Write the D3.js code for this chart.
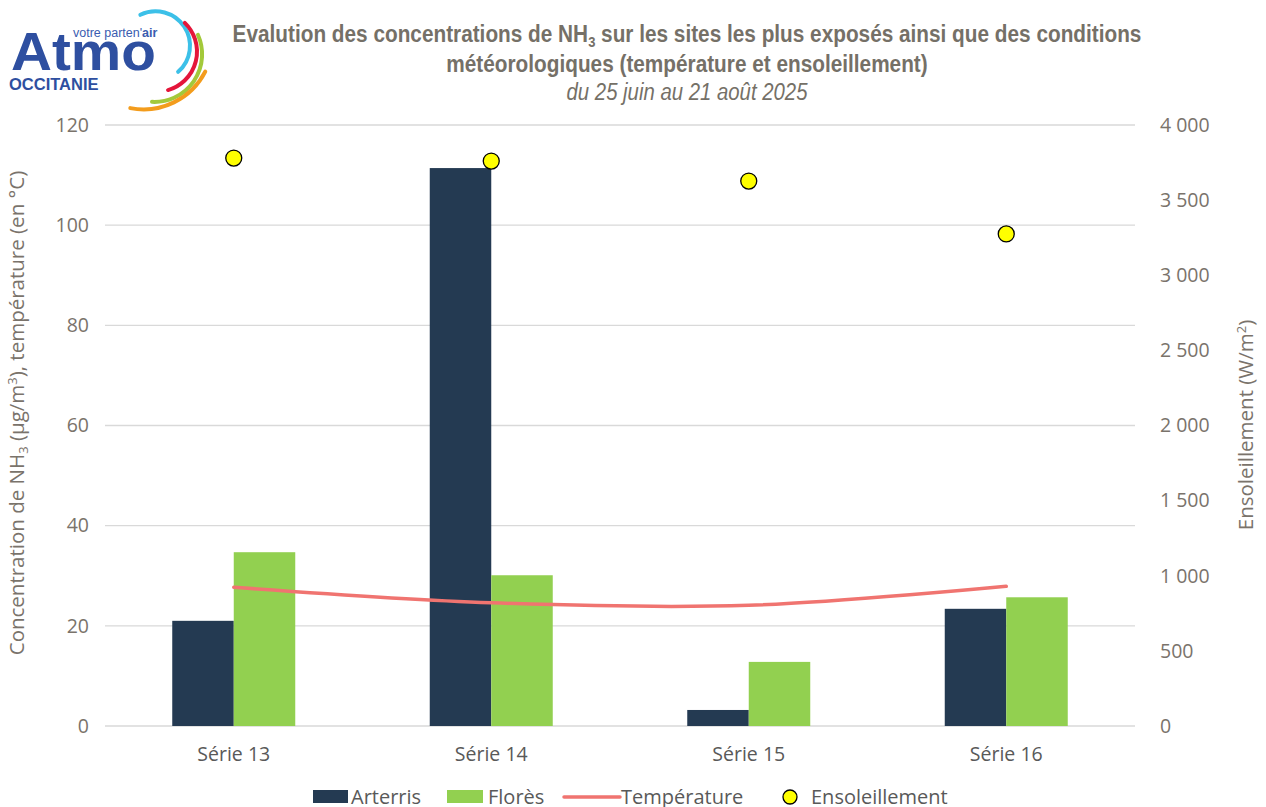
<!DOCTYPE html>
<html><head><meta charset="utf-8">
<script src="https://cdn.jsdelivr.net/npm/d3@7"></script>
<style>body{margin:0;background:#fff}svg{display:block}</style>
</head><body><svg id="c" width="1266" height="807"></svg>
<script>
const categories = ["Série 13","Série 14","Série 15","Série 16"];
const arterris = [21.0, 111.4, 3.2, 23.4];
const flores = [34.7, 30.1, 12.8, 25.7];
const temperature = [27.7, 24.6, 24.1, 27.9];
const ensoleillement = [3780, 3760, 3627, 3275];
const leftTicks = [0,20,40,60,80,100,120];
const rightTicks = [0,500,1000,1500,2000,2500,3000,3500,4000];
const seriesNames = ["Arterris","Florès","Température","Ensoleillement"];

const svg = d3.select("#c");
const m = {l:105, r:1135, t:125, b:726};
const font = "'Open Sans','Noto Sans',sans-serif";
const tickCol = "#7a736b";

const x = d3.scaleBand().domain(categories).range([m.l,m.r]).paddingInner(0).paddingOuter(0);
const xs = d3.scaleBand().domain(["a","f"]).range([0, 123]);
const yL = d3.scaleLinear().domain([0,120]).range([m.b,m.t]);
const yR = d3.scaleLinear().domain([0,4000]).range([m.b,m.t]);

// grid
svg.append("g").selectAll("line").data(leftTicks).join("line")
  .attr("x1",m.l).attr("x2",m.r).attr("y1",d=>yL(d)).attr("y2",d=>yL(d))
  .attr("stroke","#d9d9d9").attr("stroke-width",1.3);

// left axis
const la = svg.append("g").attr("transform",`translate(${m.l},0)`)
  .call(d3.axisLeft(yL).tickValues(leftTicks).tickSize(0).tickPadding(16));
la.select(".domain").remove();
la.selectAll("text").attr("font-family",font).attr("font-size",19.5).attr("fill",tickCol);

// right axis
const fmt = d => d3.format(",")(d).replace(/,/g," ");
const ra = svg.append("g").attr("transform",`translate(${m.r},0)`)
  .call(d3.axisRight(yR).tickValues(rightTicks).tickSize(0).tickPadding(25).tickFormat(fmt));
ra.select(".domain").remove();
ra.selectAll("text").attr("font-family",font).attr("font-size",19.5).attr("fill",tickCol);

// x axis labels
const xa = svg.append("g").attr("transform",`translate(0,${m.b})`)
  .call(d3.axisBottom(x).tickSize(0).tickPadding(21));
xa.select(".domain").remove();
xa.selectAll("text").attr("font-family",font).attr("font-size",19.5).attr("fill","#595959");

// bars
const barData = categories.map((c,i)=>({c,a:arterris[i],f:flores[i]}));
const g = svg.append("g");
barData.forEach(d=>{
  const x0 = x(d.c) + (x.bandwidth()-123)/2;
  g.append("rect").attr("x",x0+xs("a")).attr("width",xs.bandwidth())
    .attr("y",yL(d.a)).attr("height",yL(0)-yL(d.a)).attr("fill","#243a52");
  g.append("rect").attr("x",x0+xs("f")).attr("width",xs.bandwidth())
    .attr("y",yL(d.f)).attr("height",yL(0)-yL(d.f)).attr("fill","#92d050");
});

// temperature line
const line = d3.line().x((d,i)=>x(categories[i])+x.bandwidth()/2).y(d=>yL(d)).curve(d3.curveCatmullRom.alpha(0.5));
svg.append("path").datum(temperature).attr("d",line).attr("fill","none")
  .attr("stroke","#f07470").attr("stroke-width",3.5).attr("stroke-linecap","round");

// ensoleillement dots
svg.append("g").selectAll("circle").data(ensoleillement).join("circle")
  .attr("cx",(d,i)=>x(categories[i])+x.bandwidth()/2).attr("cy",d=>yR(d))
  .attr("r",8).attr("fill","#ffff00").attr("stroke","#000").attr("stroke-width",1.3);

// titles (condensed)
const tfont = "'Liberation Sans',Arial,sans-serif";
const tg = svg.append("g").attr("transform","translate(687,0) scale(0.866,1)")
  .attr("font-family",tfont).attr("fill","#757067").attr("text-anchor","middle");
const t1 = tg.append("text").attr("x",0).attr("y",42).attr("font-weight","bold").attr("font-size",24);
t1.append("tspan").text("Evalution des concentrations de NH");
t1.append("tspan").text("3").attr("font-size",15).attr("dy",5);
t1.append("tspan").text(" sur les sites les plus exposés ainsi que des conditions").attr("dy",-5);
tg.append("text").attr("x",0).attr("y",72).attr("font-weight","bold").attr("font-size",24)
  .text("météorologiques (température et ensoleillement)");
tg.append("text").attr("x",0).attr("y",100).attr("font-style","italic").attr("font-size",23.5)
  .text("du 25 juin au 21 août 2025");

// left axis title
const lt = svg.append("text").attr("transform","translate(24,413) rotate(-90)").attr("text-anchor","middle")
  .attr("font-family",font).attr("font-size",20.5).attr("fill","#7a736b");
lt.append("tspan").text("Concentration de NH");
lt.append("tspan").text("3").attr("font-size",13).attr("dy",4);
lt.append("tspan").text(" (µg/m").attr("dy",-4);
lt.append("tspan").text("3").attr("font-size",13).attr("dy",-7);
lt.append("tspan").text("), température (en °C)").attr("dy",7);

const rt = svg.append("text").attr("transform","translate(1253,425) rotate(-90)").attr("text-anchor","middle")
  .attr("font-family",font).attr("font-size",20.5).attr("fill","#7a736b");
rt.append("tspan").text("Ensoleillement (W/m");
rt.append("tspan").text("2").attr("font-size",13).attr("dy",-7);
rt.append("tspan").text(")").attr("dy",7);

// legend
const lg = svg.append("g").attr("font-family",font).attr("font-size",20).attr("fill","#595959");
lg.append("rect").attr("x",313).attr("y",790).attr("width",35).attr("height",13).attr("fill","#243a52");
lg.append("text").attr("x",351).attr("y",804).text(seriesNames[0]);
lg.append("rect").attr("x",447).attr("y",790).attr("width",36).attr("height",13).attr("fill","#92d050");
lg.append("text").attr("x",488).attr("y",804).text(seriesNames[1]);
lg.append("line").attr("x1",564).attr("x2",620).attr("y1",797).attr("y2",797).attr("stroke","#f07470").attr("stroke-width",3.5).attr("stroke-linecap","round");
lg.append("text").attr("x",621).attr("y",804).text(seriesNames[2]);
lg.append("circle").attr("cx",790).attr("cy",797).attr("r",7).attr("fill","#ffff00").attr("stroke","#000").attr("stroke-width",1.3);
lg.append("text").attr("x",811).attr("y",804).text(seriesNames[3]);

// logo
const lf = "'Liberation Sans',Arial,sans-serif";
const logo = svg.append("g");
logo.append("g").attr("transform","translate(11,70) scale(1.05,1)")
  .append("text").attr("x",0).attr("y",0).attr("font-family",lf)
  .attr("font-weight","bold").attr("font-size",54).attr("fill","#2e4fa0").text("Atmo");
logo.append("text").attr("x",9).attr("y",90).attr("font-family",lf)
  .attr("font-weight","bold").attr("font-size",16.5).attr("fill","#2e4fa0").text("OCCITANIE");
const vt = logo.append("text").attr("x",73).attr("y",37).attr("font-family",lf)
  .attr("font-size",12.5).attr("fill","#3a5cb0");
vt.append("tspan").text("votre parten'");
vt.append("tspan").text("air").attr("font-weight","bold");
const arcs = [
  {cx:155.5, cy:45.8, r:34.5, a0:-26, a1:139, c:"#3cc0e8"},
  {cx:157, cy:51.6, r:40, a0:44, a1:164, c:"#e4163a"},
  {cx:154.5, cy:54.3, r:47.6, a0:66, a1:183, c:"#a3c93a"},
  {cx:143.5, cy:40.1, r:69.3, a0:117, a1:191, c:"#f39c1c"}
];
arcs.forEach(a=>{
  const p = d3.path();
  const toRad = d => (d-90)*Math.PI/180;
  p.arc(a.cx, a.cy, a.r, toRad(a.a0), toRad(a.a1), false);
  logo.append("path").attr("d",p.toString()).attr("fill","none")
    .attr("stroke",a.c).attr("stroke-width",4).attr("stroke-linecap","round");
});
</script></body></html>
